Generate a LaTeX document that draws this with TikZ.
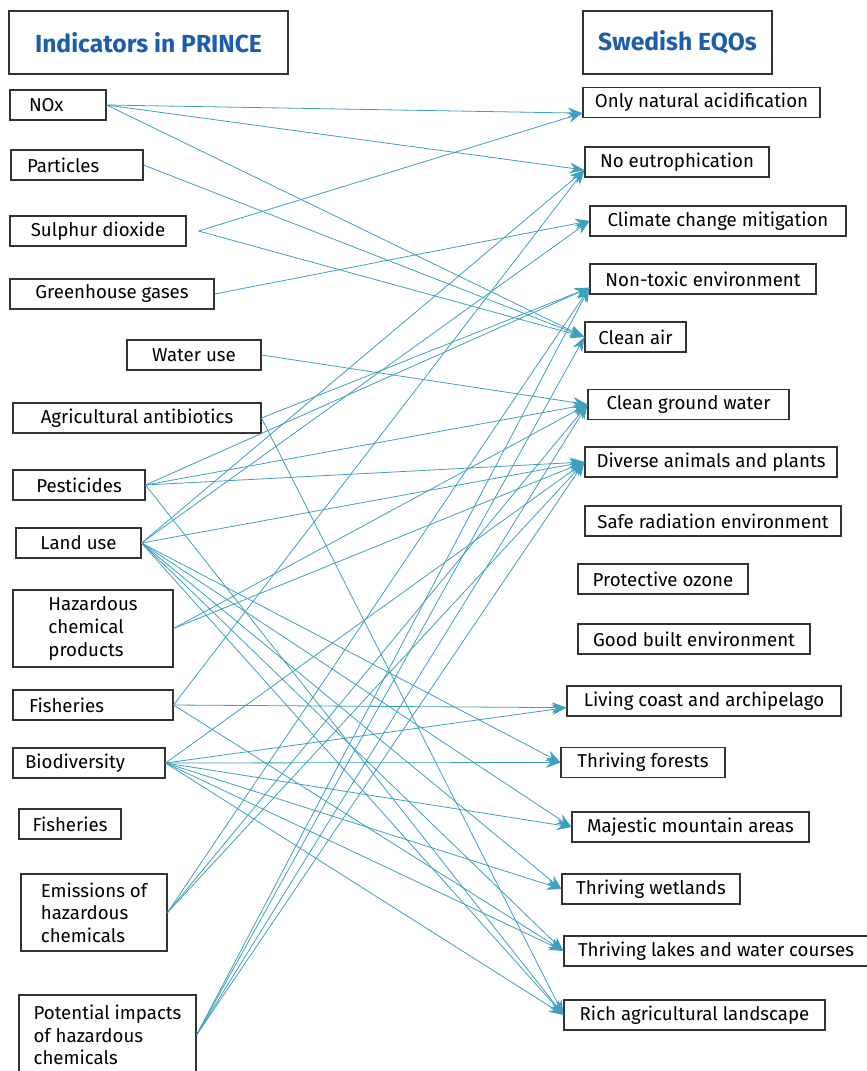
\documentclass[tikz,border=0pt]{standalone}
\usepackage{fontspec}
\setmainfont{Fira Sans}
\usepackage{tikz}
\usetikzlibrary{arrows.meta}
\definecolor{linkteal}{RGB}{61,160,190}
\definecolor{titleblue}{RGB}{28,94,170}
\tikzset{
    %Define style for the boxes
    box/.style={
           rectangle,
           draw=black!80, line width=0.8pt,
           minimum height=22.5pt,
           inner sep=1pt,
           align=left,
           font=\fontsize{14}{17}\selectfont,
           text centered},
    leftbox/.style={
           box,
           inner xsep=#1,
           text badly ragged},
    tallbox/.style={
           box,
           minimum height=57.75pt},
    headbox/.style={
           box,
           minimum height=47.25pt,
           text=titleblue,
           font=\fontsize{18.5}{22}\selectfont\bfseries},
    % Define arrow style
    link/.style={
           ->,
           color=linkteal,
           line width=0.6pt}
}
\begin{document}
\begin{tikzpicture}[x=0.75pt,y=-0.75pt,>={Stealth[length=11pt,width=8pt]}]
\useasboundingbox (0,0) rectangle (867,1071);
% headings
\node[headbox, minimum width=209.25pt] (headL) at (148.5,42.5) {Indicators in PRINCE};
\node[headbox, minimum width=141.75pt] (headR) at (677.5,42.5) {Swedish EQOs};
% indicators
\node[leftbox=14.25pt, text width=43.5pt] (nox) at (58,105) {NOx};
\node[leftbox=12pt, text width=75pt] (part) at (77,165) {Particles};
\node[box, minimum width=132pt] (so2) at (98,231) {Sulphur dioxide};
\node[box, minimum width=153pt] (ghg) at (112,294) {Greenhouse gases};
\node[box, minimum width=100.5pt] (water) at (194,355) {Water use};
\node[box, minimum width=186pt] (anti) at (137,418) {Agricultural antibiotics};
\node[box, minimum width=99pt] (pest) at (79,485) {Pesticides};
\node[box, minimum width=93.75pt] (land) at (78.5,543) {Land use};
\node[tallbox, minimum width=120pt] (haz) at (93,628.5) {Hazardous\\chemical\\products};
\node[leftbox=12pt, text width=96pt] (fish) at (93,705) {Fisheries};
\node[leftbox=9pt, text width=96pt] (bio) at (89,763) {Biodiversity};
\node[box, minimum width=76.5pt] (fishb) at (70,824) {Fisheries};
\node[tallbox, minimum width=109.5pt] (emis) at (94,912.5) {Emissions of\\hazardous\\chemicals};
\node[tallbox, minimum width=132.75pt, minimum height=60pt] (pot) at (107.5,1035) {Potential impacts\\of hazardous\\chemicals};
% EQOs
\node[box, minimum width=177.75pt] (acid) at (701.5,102.5) {Only natural acidification};
\node[box, minimum width=138pt] (eutro) at (677,162) {No eutrophication};
\node[box, minimum width=192pt] (clim) at (718,221) {Climate change mitigation};
\node[box, minimum width=169.5pt] (ntox) at (703,279) {Non-toxic environment};
\node[box, minimum width=75.75pt] (air) at (635.5,337) {Clean air};
\node[box, minimum width=150.75pt] (gw) at (688.5,404.5) {Clean ground water};
\node[box, minimum width=189pt] (div) at (711,462) {Diverse animals and plants};
\node[box, minimum width=192pt] (rad) at (713,521) {Safe radiation environment};
\node[box, minimum width=127.5pt] (ozone) at (663,579) {Protective ozone};
\node[box, minimum width=174pt] (built) at (694,639) {Good built environment};
\node[box, minimum width=205.5pt] (coast) at (704,701) {Living coast and archipelago};
\node[box, minimum width=123pt] (forest) at (643,762.5) {Thriving forests};
\node[box, minimum width=177.75pt] (mount) at (690.5,827) {Majestic mountain areas};
\node[box, minimum width=133.5pt] (wet) at (651,889) {Thriving wetlands};
\node[box, minimum width=228pt] (lakes) at (716,951) {Thriving lakes and water courses};
\node[box, minimum width=195.75pt] (rich) at (694.5,1015) {Rich agricultural landscape};
% where the links leave and arrive, if not at the middle of a side
\coordinate (so2-out) at ([xshift=9pt]so2.east);
\coordinate (acid-in) at ([yshift=-8pt]acid.west);
\coordinate (eutro-in) at ([yshift=-6pt]eutro.west);
\coordinate (ntox-in) at ([yshift=-6.5pt]ntox.west);
\coordinate (coast-in) at ([yshift=-5pt]coast.west);
% links
\path[link]
    (nox.east) edge (acid-in) edge (eutro-in) edge (air.west)
    (part.east) edge (air.west)
    (so2-out) edge (acid-in) edge (air.west)
    (ghg.east) edge (clim.west)
    (water.east) edge (gw.west)
    (anti.east) edge (ntox-in) edge (rich.west)
    (pest.east) edge (ntox-in) edge (gw.west) edge (div.west) edge (rich.west)
    (land.east) edge (eutro-in) edge (clim.west) edge (div.west) edge (forest.west)
                edge (mount.west) edge (wet.west) edge (lakes.west) edge (rich.west)
    (haz.east) edge (gw.west) edge (div.west)
    (fish.east) edge (eutro-in) edge (coast-in) edge (lakes.west)
    (bio.east) edge (div.west) edge (coast-in) edge (forest.west) edge (mount.west)
               edge (wet.west) edge (lakes.west) edge (rich.west)
    (emis.east) edge (ntox-in) edge (gw.west) edge (div.west)
    (pot.east) edge (ntox-in) edge (air.west) edge (gw.west) edge (div.west);
\end{tikzpicture}
\end{document}
